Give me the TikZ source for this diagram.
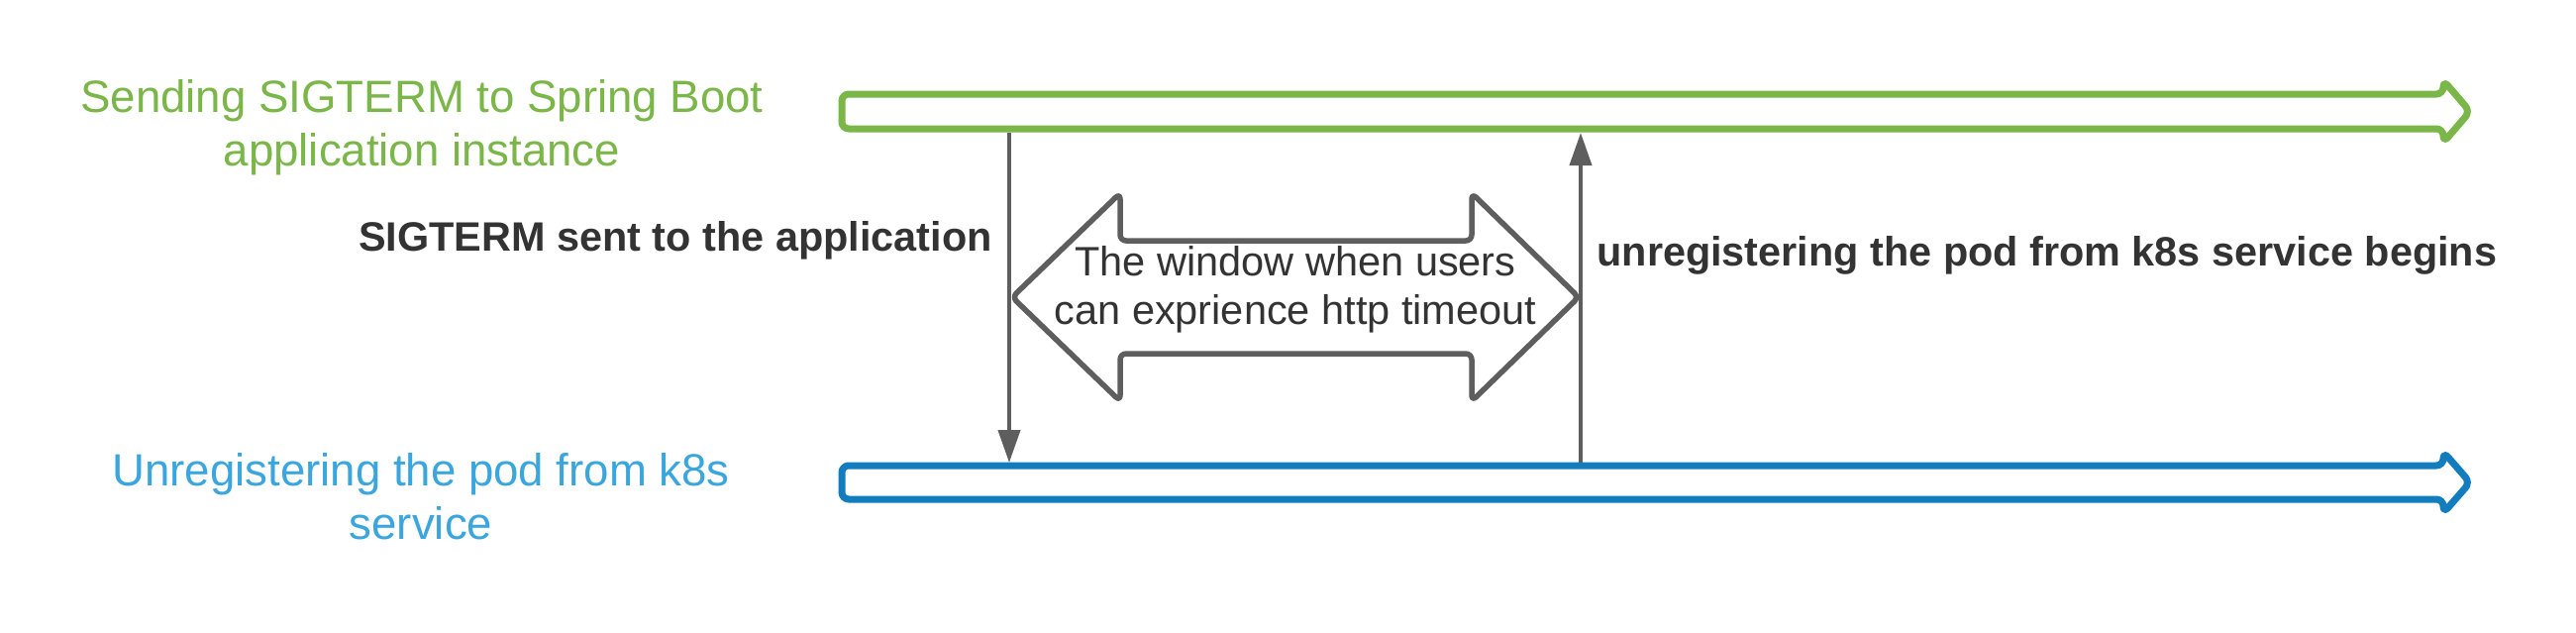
\documentclass[tikz,border=0pt]{standalone}
\usepackage{fontspec}
\setmainfont{Liberation Sans}
\usetikzlibrary{arrows.meta}

\newlength{\du}
\setlength{\du}{0.5pt}

\definecolor{termgreen}{HTML}{7AB648}
\definecolor{podblue}{HTML}{127DBE}
\definecolor{podtext}{HTML}{3AA6DD}
\definecolor{linegray}{HTML}{5E5E5E}
\definecolor{labelgray}{HTML}{333333}

\begin{document}
\begin{tikzpicture}[yscale=-1,
  track/.style={line width=7\du, rounded corners=7\du, line join=round},
  window/.style={draw=linegray, line width=5.5\du, rounded corners=6\du, line join=round},
  event/.style={draw=linegray, line width=4\du, -{Triangle[length=16.5pt,width=11pt]}},
  lanetext/.style={align=center, font=\fontsize{22.8}{27}\selectfont},
  eventtext/.style={text=labelgray, inner sep=0pt, font=\fontsize{20.7}{25}\selectfont\bfseries},
  windowtext/.style={text=labelgray, align=center, inner sep=0pt, font=\fontsize{20.75}{24.5}\selectfont},
]
% canvas, pixel units, y downwards
\fill[white] (0,0) rectangle (2601\du,638\du);

% the two timelines
\draw[track, draw=termgreen] (850\du,95\du) -- (2467\du,95\du) -- (2467\du,81\du)
  -- (2494\du,112.5\du) -- (2467\du,144\du) -- (2467\du,130\du) -- (850\du,130\du) -- cycle;
\draw[track, draw=podblue] (850\du,470\du) -- (2467\du,470\du) -- (2467\du,456\du)
  -- (2494\du,487\du) -- (2467\du,518\du) -- (2467\du,504\du) -- (850\du,504\du) -- cycle;

% lane titles
\node[lanetext, text=termgreen] (termlane) at (426\du,129\du)
  {Sending SIGTERM to Spring Boot\\application instance};
\node[lanetext, text=podtext] (podlane) at (425\du,501\du)
  {Unregistering the pod from k8s\\service};

% events between the lanes
\coordinate (sigsent) at (1019\du,134\du);
\coordinate (sigrecv) at (1019\du,467\du);
\coordinate (unregstart) at (1596\du,467\du);
\coordinate (unregseen) at (1596\du,134\du);
\draw[event] (sigsent) -- (sigrecv);
\draw[event] (unregstart) -- (unregseen);

\node[eventtext, anchor=base east] (sigtermlabel) at (1002\du,253\du)
  {SIGTERM sent to the application};
\node[eventtext, anchor=base west] (unreglabel) at (1612\du,268\du)
  {unregistering the pod from k8s service begins};

% the timeout window
\draw[window] (1022\du,300\du) -- (1131\du,195\du) -- (1131\du,243\du) -- (1486\du,243\du)
  -- (1486\du,195\du) -- (1594\du,300\du) -- (1486\du,405\du) -- (1486\du,357\du)
  -- (1131\du,357\du) -- (1131\du,405\du) -- cycle;
\node[windowtext] (windowlabel) at (1308\du,292\du)
  {The window when users\\can exprience http timeout};
\end{tikzpicture}
\end{document}
